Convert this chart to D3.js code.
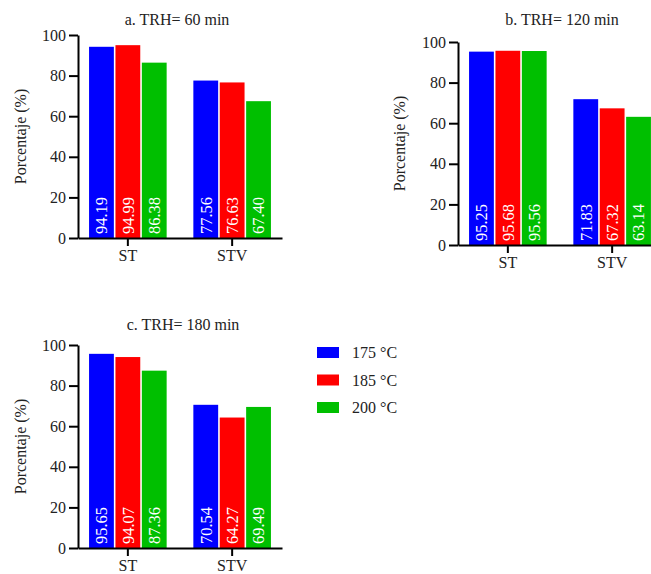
<!DOCTYPE html>
<html>
<head>
<meta charset="utf-8">
<script src="https://cdn.jsdelivr.net/npm/d3@7"></script>
<style>
  html, body { margin: 0; padding: 0; background: #fff; }
  svg { display: block; }
  svg text { font-family: "Liberation Serif", "DejaVu Serif", serif !important; }
</style>
</head>
<body>
<svg id="chart" width="651" height="574"></svg>
<script>
const categories = ["ST", "STV"];
const series = ["175 °C", "185 °C", "200 °C"];
const colors = ["#0000FF", "#FF0000", "#00BF00"];
const yTicks = [0, 20, 40, 60, 80, 100];
const titles = ["a. TRH= 60 min", "b. TRH= 120 min", "c. TRH= 180 min"];
// values[category][series]
const valuesA = [[94.19, 94.99, 86.38], [77.56, 76.63, 67.40]];
const valuesB = [[95.25, 95.68, 95.56], [71.83, 67.32, 63.14]];
const valuesC = [[95.65, 94.07, 87.36], [70.54, 64.27, 69.49]];
const yLabel = "Porcentaje (%)";

const svg = d3.select("#chart");

const panels = [
  { vals: valuesA, title: titles[0], x0: 78, top: 35, bot: 238, titleX: 177, titleY: 25, labX: 20 },
  { vals: valuesB, title: titles[1], x0: 458, top: 42, bot: 245, titleX: 562, titleY: 25, labX: 399 },
  { vals: valuesC, title: titles[2], x0: 78, top: 345, bot: 548, titleX: 183, titleY: 330, labX: 20 }
];

panels.forEach(p => {
  const g = svg.append("g");
  const x = d3.scaleBand().domain(categories).range([p.x0, p.x0 + 204])
    .paddingInner(0.256).paddingOuter(0.106);
  const xi = d3.scaleBand().domain(series).range([0, x.bandwidth()]).paddingInner(0.06);
  const y = d3.scaleLinear().domain([0, 100]).range([p.bot, p.top]);

  // bars
  categories.forEach((c, ci) => {
    series.forEach((s, si) => {
      const v = p.vals[ci][si];
      g.append("rect")
        .attr("x", x(c) + xi(s))
        .attr("y", y(v))
        .attr("width", xi.bandwidth())
        .attr("height", y(0) - y(v))
        .attr("fill", colors[si]);
      const cx = x(c) + xi(s) + xi.bandwidth() / 2;
      g.append("text")
        .attr("transform", `translate(${cx},${y(0) - 4}) rotate(-90)`)
        .attr("dy", "0.35em")
        .attr("text-anchor", "start")
        .attr("fill", "#fff")
        .attr("font-size", 16.5)
        .text(v.toFixed(2));
    });
  });

  // y axis
  const ya = g.append("g")
    .attr("transform", `translate(${p.x0},0)`)
    .call(d3.axisLeft(y).tickValues(yTicks).tickSize(9).tickSizeOuter(0).tickPadding(3));
  ya.selectAll("path, line").attr("stroke", "#000").attr("stroke-width", 2);
  ya.selectAll("text").attr("font-size", 16).attr("fill", "#222");

  // x axis
  const xa = g.append("g")
    .attr("transform", `translate(0,${p.bot})`)
    .call(d3.axisBottom(x).tickSize(8).tickSizeOuter(0).tickPadding(4));
  xa.selectAll("path, line").attr("stroke", "#000").attr("stroke-width", 2);
  xa.selectAll("text").attr("font-size", 16).attr("fill", "#222");

  // title
  g.append("text")
    .attr("x", p.titleX).attr("y", p.titleY)
    .attr("text-anchor", "middle")
    .attr("font-size", 16).attr("fill", "#222")
    .text(p.title);

  // y label
  g.append("text")
    .attr("transform", `translate(${p.labX},${(p.top + p.bot) / 2}) rotate(-90)`)
    .attr("dy", "0.35em")
    .attr("text-anchor", "middle")
    .attr("font-size", 16).attr("fill", "#222")
    .text(yLabel);
});

// legend
const leg = svg.append("g");
series.forEach((s, i) => {
  const yy = 347 + i * 27.5;
  leg.append("rect").attr("x", 317).attr("y", yy).attr("width", 22).attr("height", 11)
    .attr("fill", colors[i]);
  leg.append("text").attr("x", 352).attr("y", yy + 5.5).attr("dy", "0.35em")
    .attr("font-size", 16).attr("fill", "#222").text(s);
});
</script>
</body>
</html>
